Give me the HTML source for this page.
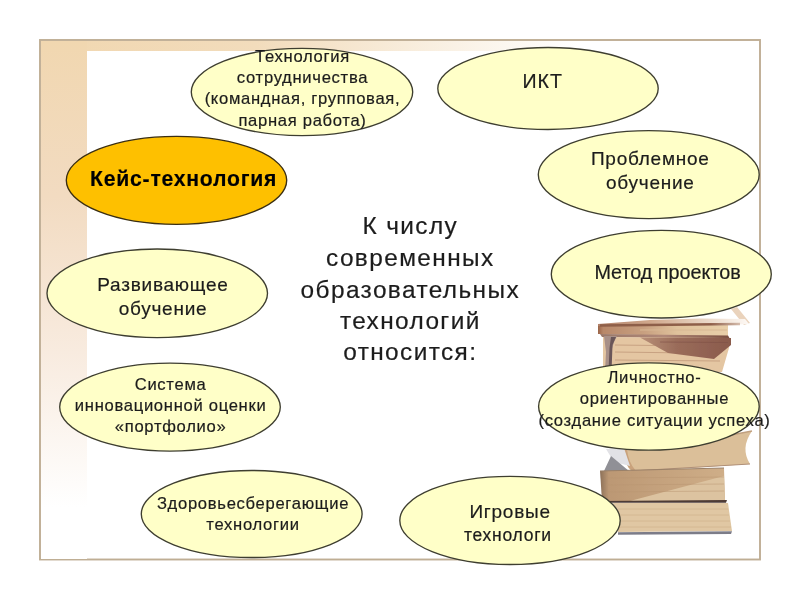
<!DOCTYPE html>
<html><head><meta charset="utf-8">
<style>
html,body{margin:0;padding:0;background:#fff;width:800px;height:600px;overflow:hidden}
svg{display:block;will-change:transform}
text{font-family:"Liberation Sans",sans-serif;fill:#1c1c1c;stroke:#1c1c1c;stroke-width:0.2px}
</style></head><body>
<svg width="800" height="600" viewBox="0 0 800 600">
<defs>
<linearGradient id="topband" x1="0" y1="0" x2="1" y2="0">
<stop offset="0" stop-color="#f1d7b0"/>
<stop offset="0.3" stop-color="#f2dcbc"/>
<stop offset="0.75" stop-color="#fff"/>
</linearGradient>
<linearGradient id="leftband" x1="0" y1="0" x2="0" y2="1">
<stop offset="0" stop-color="#f1d7b0"/>
<stop offset="0.3" stop-color="#f2dbc1"/>
<stop offset="0.6" stop-color="#f8ebdf"/>
<stop offset="0.9" stop-color="#fff"/>
</linearGradient>
</defs>
<!-- frame -->
<rect x="40" y="40" width="720" height="519.5" fill="#fff" stroke="#bfae94" stroke-width="1.9"/>
<rect x="41" y="41" width="718" height="10" fill="url(#topband)"/>
<rect x="41" y="41" width="46" height="518" fill="url(#leftband)"/>

<filter id="soft" x="-5%" y="-5%" width="110%" height="110%"><feGaussianBlur stdDeviation="0.45"/></filter>
<g id="books" filter="url(#soft)">
<linearGradient id="b1cover" x1="598" y1="0" x2="748" y2="0" gradientUnits="userSpaceOnUse">
<stop offset="0" stop-color="#b08068"/><stop offset="0.35" stop-color="#d0a88c"/><stop offset="0.8" stop-color="#efe0d2"/><stop offset="1" stop-color="#fdf8f4"/>
</linearGradient>
<linearGradient id="b1line" x1="598" y1="0" x2="748" y2="0" gradientUnits="userSpaceOnUse">
<stop offset="0" stop-color="#8e5e48"/><stop offset="0.75" stop-color="#8e5e48"/><stop offset="1" stop-color="#e8d6c8"/>
</linearGradient>
<linearGradient id="b1pages" x1="598" y1="0" x2="730" y2="0" gradientUnits="userSpaceOnUse">
<stop offset="0" stop-color="#9a6448"/><stop offset="0.04" stop-color="#b8886a"/><stop offset="0.35" stop-color="#c8a080"/><stop offset="0.6" stop-color="#e0c29c"/><stop offset="1" stop-color="#e9d0aa"/>
</linearGradient>
<linearGradient id="b1shadow" x1="598" y1="0" x2="730" y2="0" gradientUnits="userSpaceOnUse">
<stop offset="0" stop-color="#9a7868"/><stop offset="0.5" stop-color="#b08878"/><stop offset="1" stop-color="#7a4e40"/>
</linearGradient>
<linearGradient id="wedge" x1="640" y1="0" x2="731" y2="0" gradientUnits="userSpaceOnUse">
<stop offset="0" stop-color="#b89078"/><stop offset="0.4" stop-color="#9a6c5a"/><stop offset="1" stop-color="#8a5a4c"/>
</linearGradient>
<linearGradient id="bB" x1="600" y1="0" x2="725" y2="0" gradientUnits="userSpaceOnUse">
<stop offset="0" stop-color="#8c7058"/><stop offset="0.07" stop-color="#bc9874"/><stop offset="1" stop-color="#cfae88"/>
</linearGradient>
<polygon points="731,309 737,307 750,323 744,325" fill="#ead3bc"/>
<polygon points="598,324 650,320 700,318.5 745,319 749,324 700,326 598,327" fill="url(#b1cover)"/>
<polygon points="598,326 728,325 728,337 598,334" fill="url(#b1pages)"/>
<polyline points="600,325.5 740,324" stroke="url(#b1line)" stroke-width="2.4" fill="none"/>
<line x1="640" y1="330" x2="727" y2="330" stroke="#d8b894" stroke-width="1"/>
<polygon points="600,334 728,335.5 730,339 602,337" fill="url(#b1shadow)"/>
<polygon points="603,337 730,338 729,348 722,372 603,372" fill="#e4c6a2"/>
<line x1="615" y1="345" x2="700" y2="346" stroke="#c8a282" stroke-width="1"/>
<line x1="615" y1="352" x2="690" y2="353" stroke="#c8a282" stroke-width="1"/>
<line x1="615" y1="360" x2="720" y2="361" stroke="#c8a282" stroke-width="1"/>
<polygon points="640,337.5 731,338 731,345 714,359 668,353" fill="url(#wedge)"/>
<line x1="660" y1="342" x2="728" y2="342.5" stroke="#7e5046" stroke-width="1" opacity="0.6"/>
<path d="M604,336 L617,336 L614,342 L611,352 L610,372 L605,372 L606,352 Z" fill="#a89088"/>
<path d="M611,337 L616,337 L612.5,345 L611.5,372 L608.5,372 L609.5,348 Z" fill="#6a5658"/>
<path d="M622,449 L700,441 L752,431 Q740,448 750,464 L632,472 Q624,464 622,449 Z" fill="#dbbf99"/>
<path d="M622,449 Q624,464 632,471 L636,471 Q628,462 627,449 Z" fill="#c9a27c"/>
<path d="M632,471 L750,464" stroke="#b09078" stroke-width="1.2" fill="none"/>
<path d="M700,441 L752,431" stroke="#c0a080" stroke-width="1.5" fill="none"/>
<polygon points="606,449 624,448 630,466 614,462" fill="#e2e2e6"/>
<polygon points="604,471 611,456 629,471" fill="#909096"/>
<polygon points="600,471 724,468 725,501 602,501" fill="url(#bB)"/>
<path d="M600,471 L724,468" stroke="#9a8068" stroke-width="1" fill="none"/>
<polygon points="630,501 724,476 725,501" fill="#dcc3a0"/>
<g stroke="#b89470" stroke-width="0.8" opacity="0.6"><line x1="606" y1="478" x2="724" y2="477"/><line x1="606" y1="485" x2="724" y2="484"/><line x1="606" y1="492" x2="724" y2="491"/></g>
<polygon points="602,501 727,500 726,502.8 605,502.8" fill="#4e3a34"/>
<polygon points="613,503 728,503 732,531 618,532" fill="#e0c7a3"/>
<g stroke="#cfb08c" stroke-width="0.8" opacity="0.8"><line x1="618" y1="509" x2="728" y2="509"/><line x1="618" y1="515" x2="729" y2="515"/><line x1="618" y1="521" x2="730" y2="521"/><line x1="619" y1="527" x2="731" y2="527"/></g>
<polygon points="618,532.3 732,531.3 731,534 618,534.8" fill="#7c7c88"/>
</g>

<!-- central text -->
<g font-size="24.4" letter-spacing="1.4" text-anchor="middle">
<text x="410.3" y="234">К числу</text>
<text x="410.3" y="266">современных</text>
<text x="410.3" y="297.6">образовательных</text>
<text x="410.3" y="328.8">технологий</text>
<text x="410.3" y="360.3">относится:</text>
</g>

<g stroke="#3e3e30" stroke-width="1.35" fill="#ffffc8">
<ellipse cx="302" cy="92" rx="110.7" ry="43.6"/>
<ellipse cx="548" cy="88.5" rx="110.2" ry="41"/>
<ellipse cx="176.5" cy="180.3" rx="110.2" ry="44" fill="#fec000" stroke="#3a2e12"/>
<ellipse cx="648.75" cy="174.6" rx="110.45" ry="44"/>
<ellipse cx="661.3" cy="274.2" rx="110" ry="43.8"/>
<ellipse cx="157.25" cy="293.3" rx="110.25" ry="44.3"/>
<ellipse cx="170" cy="407.1" rx="110.3" ry="44"/>
<ellipse cx="648.9" cy="406.5" rx="110.3" ry="43.7"/>
<ellipse cx="251.7" cy="514" rx="110.4" ry="43.5"/>
<ellipse cx="510" cy="520.4" rx="110.2" ry="44.1"/>
</g>

<g text-anchor="middle" letter-spacing="0.7">
<g font-size="16.6">
<text x="302.5" y="61.5">Технология</text>
<text x="302.5" y="82.9">сотрудничества</text>
<text x="302.5" y="104.3">(командная, групповая,</text>
<text x="302.5" y="125.7">парная работа)</text>
</g>
<text x="542.7" y="87.5" font-size="19.6" letter-spacing="1">ИКТ</text>
<text x="183.6" y="185.8" font-size="21.2" font-weight="bold" letter-spacing="0.75" style="fill:#000">Кейс-технология</text>
<g font-size="19" letter-spacing="0.75">
<text x="650.3" y="165.4">Проблемное</text>
<text x="650.3" y="188.5">обучение</text>
<text x="667.6" y="279" font-size="19.8" letter-spacing="0">Метод проектов</text>
<text x="163" y="291">Развивающее</text>
<text x="163" y="314.5">обучение</text>
<text x="510.1" y="517.7">Игровые</text>
<text x="507.9" y="540.6" font-size="17.5">технологи</text>
</g>
<g font-size="16.6">
<text x="170.6" y="389.5">Система</text>
<text x="170.6" y="410.6">инновационной оценки</text>
<text x="170.6" y="431.6">«портфолио»</text>
<text x="253" y="508.5">Здоровьесберегающие</text>
<text x="253" y="529.5">технологии</text>
<text x="654.5" y="382.8">Личностно-</text>
<text x="654.5" y="404.4">ориентированные</text>
<text x="654.5" y="426">(создание ситуации успеха)</text>
</g>
</g>
</svg>
</body></html>
